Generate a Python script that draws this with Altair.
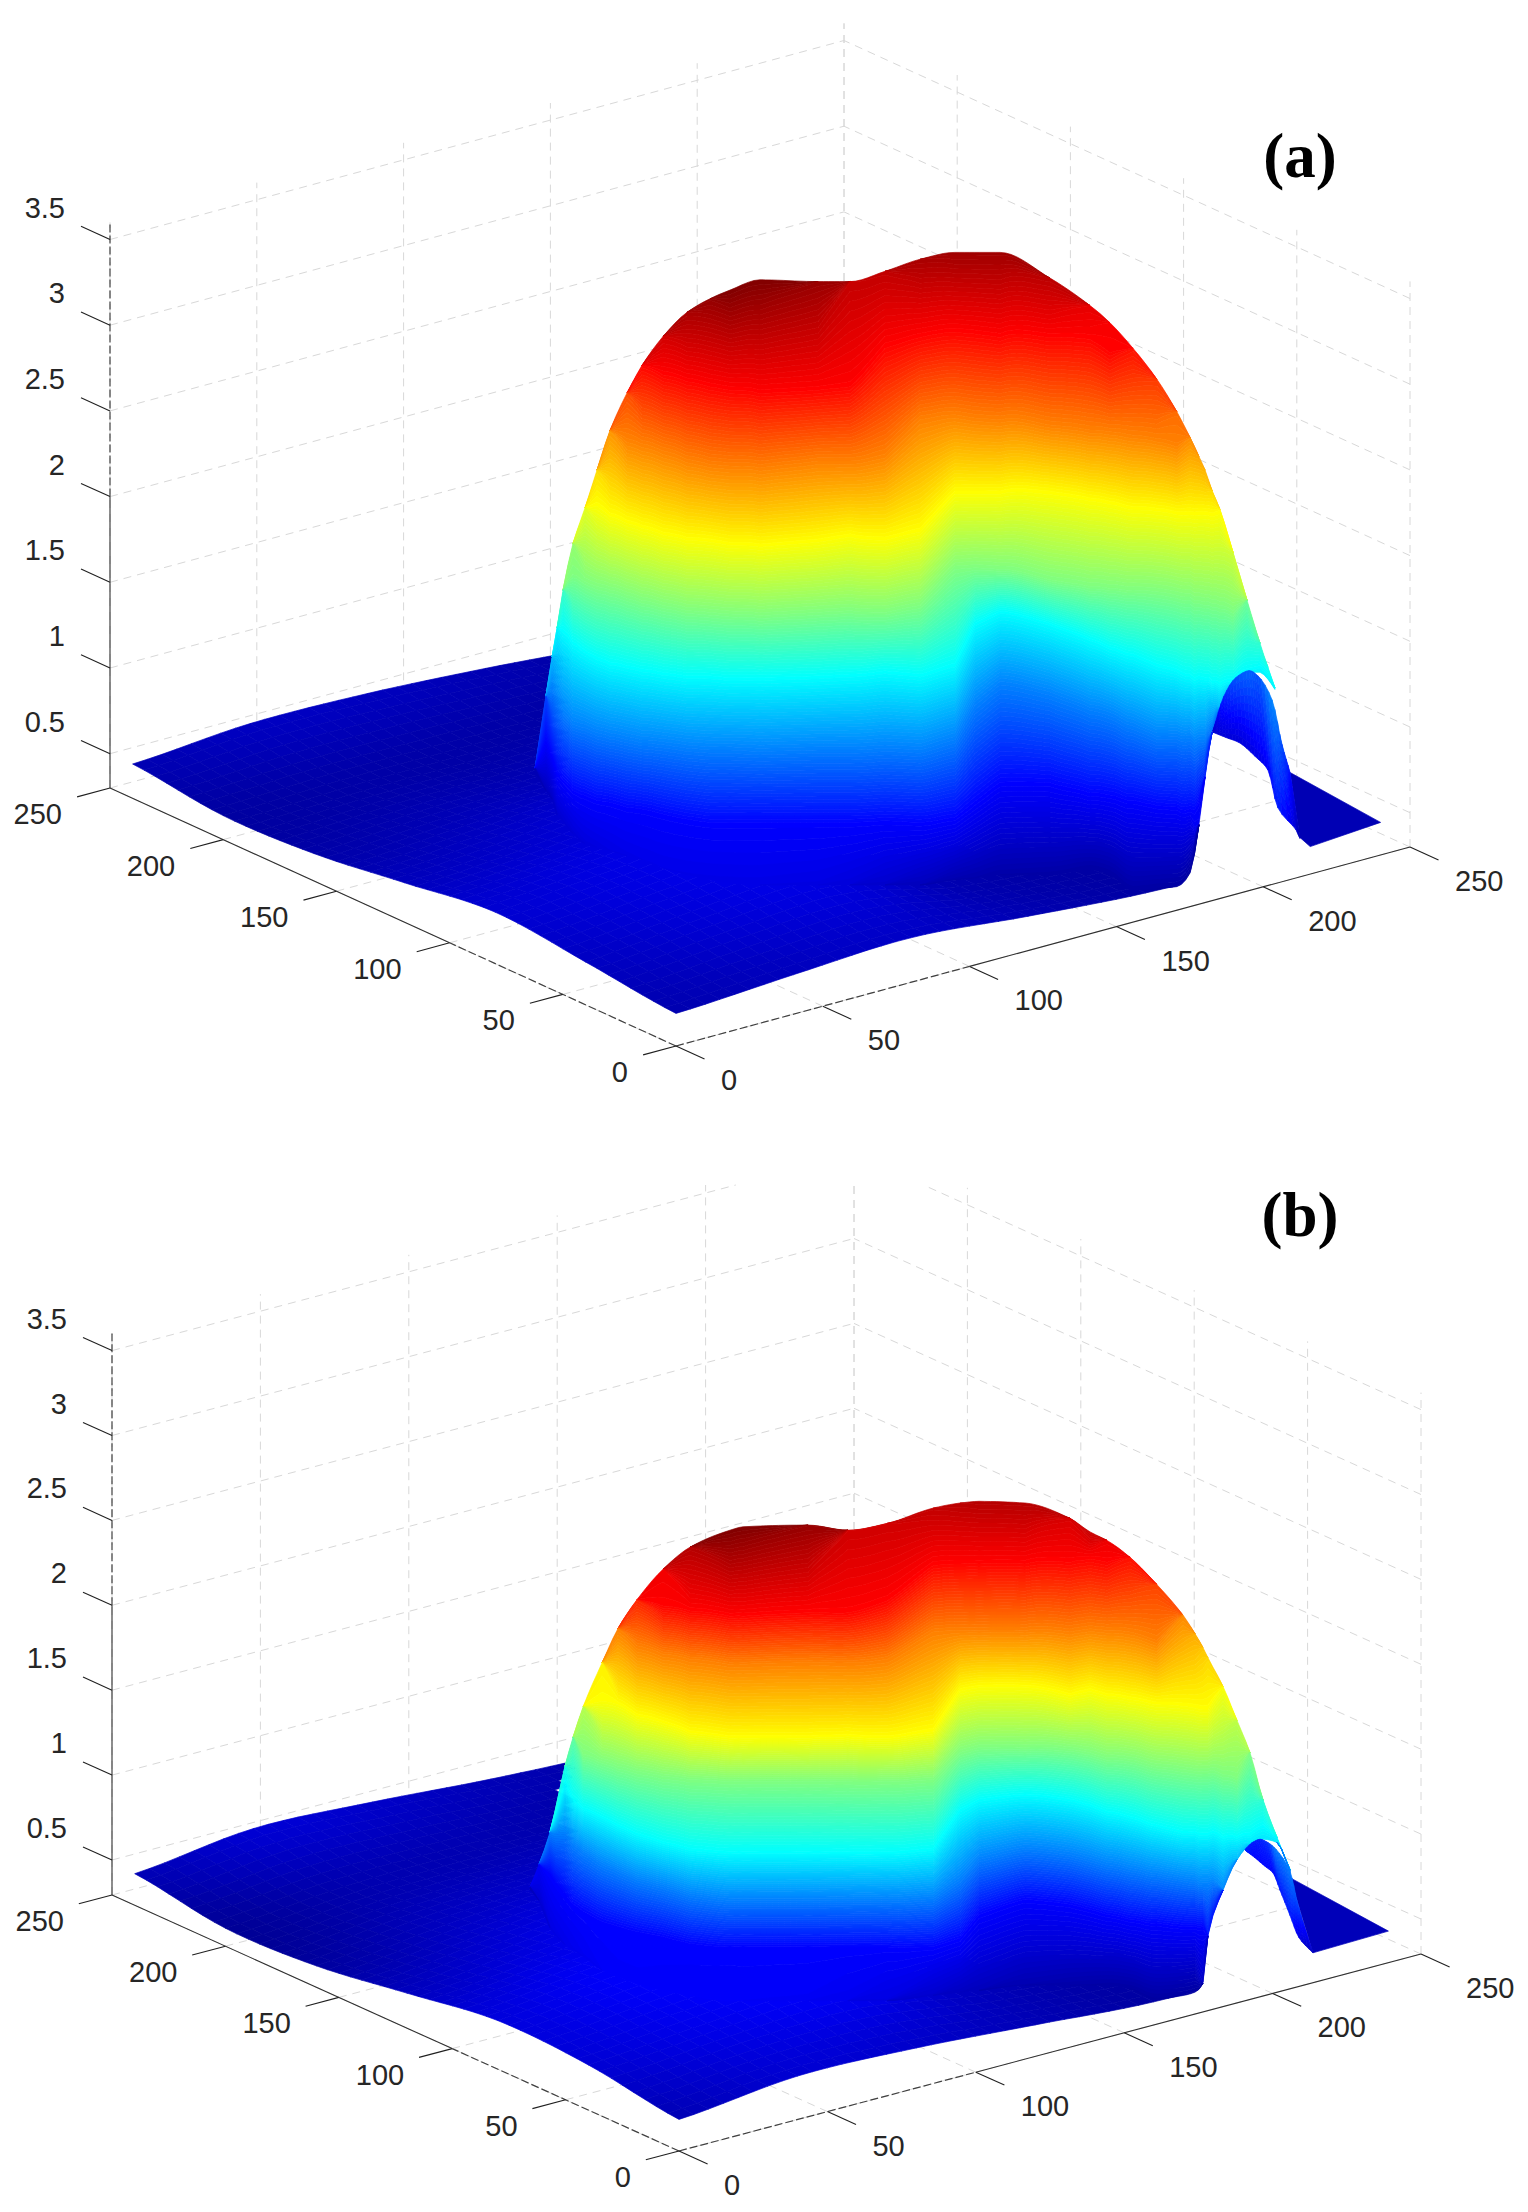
import math
import numpy as np
import altair as alt

N = None
# colormap position stops (jet) -------------------------------------------------
JET_POS = [0, 0.125, 0.375, 0.625, 0.875, 1]
JET_HEX = ["#00008f", "#0000ff", "#00ffff", "#ffff00", "#ff0000", "#800000"]

X_TICKS = [0, 50, 100, 150, 200, 250]
Y_TICKS = [0, 50, 100, 150, 200, 250]
Z_TICKS = [0.5, 1, 1.5, 2, 2.5, 3, 3.5]
Z_LABELS = ["0.5", "1", "1.5", "2", "2.5", "3", "3.5"]
Z_BOTTOM = [0.3, 0.294]
Z_TOP = 3.6
GRID_NODES = [0, 40, 80, 120, 160, 200, 240]

# low sheet height z(x, y), rows are x, columns are y
BASE_A = [
    [.49, .55, .60, .53, .46, .44, .50],
    [.53, .62, .66, .58, .50, .46, .55],
    [.56, .66, .72, .66, .52, .46, .54],
    [.50, .50, .60, .66, .56, .46, .50],
    [.45, .45, .50, .56, .50, .46, .45],
    [.44, .44, .46, .50, .50, .46, .45],
    [.45, .46, .46, .46, .46, .46, .45],
]
BASE_B = [
    [.48, .56, .58, .50, .42, .40, .48],
    [.55, .62, .66, .58, .50, .46, .56],
    [.53, .66, .70, .66, .54, .47, .53],
    [.48, .52, .60, .62, .56, .46, .48],
    [.43, .45, .50, .54, .50, .45, .45],
    [.44, .44, .46, .50, .50, .46, .45],
    [.45, .46, .46, .46, .46, .46, .45],
]

# dome wall: across, foot apparent height, foot z, apparent height at the seven
# colour levels, crest apparent height, crest z
LEVELS_A = [.75, 1.13, 1.5, 1.875, 2.25, 2.62, 3.0]
WALL_A = [
    (-48.0, 1.90, N, N, N, N, N, N, N, N, 1.92, .50),
    (-44.3, 1.79, N, 2.06, N, N, N, N, N, N, 2.34, .95),
    (-42.2, 1.74, N, 1.97, 2.38, N, N, N, N, N, 2.57, 1.30),
    (-40.5, 1.65, N, 1.88, 2.32, N, N, N, N, N, 2.74, 1.48),
    (-38.5, 1.61, N, 1.84, 2.25, 2.72, N, N, N, N, 2.96, 1.67),
    (-35.1, 1.54, N, 1.78, 2.18, 2.65, 3.05, N, N, N, 3.23, 1.93),
    (-31.0, 1.48, N, 1.75, 2.16, 2.60, 3.01, N, N, N, 3.44, 2.17),
    (-26.9, 1.46, N, 1.72, 2.13, 2.56, 2.98, 3.46, N, N, 3.66, 2.35),
    (-22.5, 1.44, N, 1.71, 2.11, 2.53, 2.96, 3.40, N, N, 3.89, 2.56),
    (-16.7, 1.41, N, 1.68, 2.09, 2.51, 2.93, 3.36, 3.84, N, 4.11, 2.77),
    (-11.6, 1.39, N, 1.67, 2.07, 2.49, 2.90, 3.33, 3.81, N, 4.27, 2.98),
    (-4.4, 1.34, N, 1.64, 2.06, 2.47, 2.87, 3.29, 3.77, 4.23, 4.44, 3.13),
    (3.7, 1.30, N, 1.61, 2.04, 2.45, 2.84, 3.26, 3.72, 4.19, 4.58, 3.25),
    (11.6, 1.27, N, 1.59, 2.03, 2.45, 2.83, 3.25, 3.69, 4.16, 4.66, 3.31),
    (18.4, 1.25, N, 1.59, 2.03, 2.44, 2.82, 3.23, 3.68, 4.14, 4.71, 3.37),
    (28.6, 1.24, N, 1.59, 2.02, 2.44, 2.81, 3.22, 3.67, 4.12, 4.77, 3.37),
    (48.4, 1.24, N, 1.59, 2.03, 2.45, 2.83, 3.25, 3.71, 4.14, 4.76, 3.30),
    (59.3, 1.24, N, 1.59, 2.03, 2.46, 2.84, 3.28, 3.71, 4.16, 4.76, 3.17),
    (71.2, 1.24, N, 1.60, 2.04, 2.48, 2.83, 3.26, 3.75, 4.39, 4.82, 3.18),
    (83.1, 1.24, N, 1.59, 2.03, 2.46, 2.87, 3.31, 3.95, 4.45, 4.89, 3.25),
    (95.0, 1.27, N, 1.62, 2.09, 2.52, 3.08, 3.53, 3.98, 4.48, 4.93, 3.28),
    (101.8, 1.28, N, 1.71, 2.29, 2.76, 3.09, 3.53, 3.96, 4.47, 4.93, 3.28),
    (110.4, 1.30, N, 1.82, 2.41, 2.83, 3.08, 3.53, 3.95, 4.45, 4.93, 3.28),
    (127.4, 1.30, N, 1.82, 2.35, 2.76, 3.02, 3.53, 3.92, 4.45, 4.78, 3.20),
    (141.0, 1.33, N, 1.76, 2.26, 2.67, 2.98, 3.49, 3.89, 4.44, 4.62, 3.07),
    (147.8, 1.30, N, 1.75, 2.23, 2.62, 2.97, 3.47, 3.88, 4.36, 4.52, 3.01),
    (155.7, 1.21, N, 1.72, 2.17, 2.58, 2.96, 3.44, 3.86, N, 4.37, 2.95),
    (163.8, 1.22, N, 1.69, 2.11, 2.52, 2.95, 3.43, 3.84, N, 4.19, 2.83),
    (170.6, 1.23, N, 1.68, 2.11, 2.49, 2.93, 3.41, 3.81, N, 4.00, 2.68),
    (175.1, 1.31, N, 1.67, 2.10, 2.46, 2.92, 3.41, N, N, 3.85, 2.59),
    (178.1, 1.59, .72, 1.71, 2.09, 2.45, 2.90, 3.41, N, N, 3.74, 2.52),
    (180.2, 1.87, .85, N, 2.09, 2.44, 2.89, 3.41, N, N, 3.66, 2.47),
    (182.6, 2.13, 1.08, N, N, 2.42, 2.88, 3.40, N, N, 3.54, 2.36),
    (185.3, 2.27, 1.30, N, N, 2.41, 2.87, N, N, N, 3.43, 2.26),
    (189.7, 2.41, 1.47, N, N, 2.43, 2.84, N, N, N, 3.18, 2.11),
    (194.5, 2.48, 1.47, N, N, 2.49, N, N, N, N, 2.90, 1.82),
    (198.9, 2.48, 1.47, N, N, N, N, N, N, N, 2.65, 1.64),
    (201.6, 2.44, 1.47, N, N, N, N, N, N, N, 2.51, 1.55),
    (204.0, 2.38, 1.47, N, N, N, N, N, N, N, 2.39, 1.49),
]
LEVELS_B = [.67, .96, 1.25, 1.54, 1.83, 2.12, 2.41]
WALL_B = [
    (-50.2, 1.83, N, N, N, N, N, N, N, N, 1.85, .50),
    (-47.2, 1.77, N, N, N, N, N, N, N, N, 1.98, .65),
    (-43.5, 1.61, N, 1.92, N, N, N, N, N, N, 2.17, .96),
    (-38.4, 1.51, N, 1.80, 2.16, 2.45, N, N, N, N, 2.56, 1.31),
    (-35.7, 1.48, N, 1.74, 2.10, 2.36, N, N, N, N, 2.73, 1.47),
    (-32.3, 1.44, N, 1.70, 2.05, 2.31, 2.63, N, N, N, 2.91, 1.66),
    (-25.9, 1.36, N, 1.64, 1.98, 2.26, 2.59, 2.95, N, N, 3.17, 1.86),
    (-20.6, 1.32, N, 1.61, 1.94, 2.21, 2.56, 2.93, N, N, 3.37, 2.12),
    (-14.2, 1.28, N, 1.58, 1.89, 2.16, 2.53, 2.86, 3.27, N, 3.54, 2.33),
    (-5.4, 1.24, N, 1.55, 1.85, 2.11, 2.50, 2.82, 3.22, 3.51, 3.72, 2.44),
    (3.7, 1.21, N, 1.51, 1.80, 2.07, 2.48, 2.76, 3.19, 3.48, 3.85, 2.58),
    (17.2, 1.18, N, 1.49, 1.77, 2.05, 2.47, 2.73, 3.16, 3.45, 3.95, 2.70),
    (21.6, 1.18, N, 1.49, 1.77, 2.05, 2.47, 2.73, 3.16, 3.45, 3.97, 2.70),
    (43.5, 1.18, N, 1.49, 1.77, 2.05, 2.47, 2.73, 3.17, 3.47, 3.98, 2.65),
    (56.9, 1.18, N, 1.49, 1.77, 2.05, 2.47, 2.74, 3.17, 3.47, 3.95, 2.52),
    (70.1, 1.18, N, 1.49, 1.77, 2.05, 2.47, 2.73, 3.19, 3.54, 3.99, 2.52),
    (85.6, 1.21, N, 1.49, 1.78, 2.07, 2.48, 2.77, 3.35, 3.75, 4.08, 2.55),
    (94.7, 1.23, N, 1.54, 1.89, 2.30, 2.64, 3.01, 3.36, 3.76, 4.11, 2.57),
    (101.1, 1.24, N, 1.68, 2.01, 2.36, 2.67, 3.03, 3.36, 3.76, 4.12, 2.58),
    (116.6, 1.27, N, 1.77, 2.07, 2.39, 2.67, 3.03, 3.36, 3.76, 4.11, 2.58),
    (131.7, 1.27, N, 1.74, 2.04, 2.36, 2.66, 2.98, 3.35, 3.77, 4.02, 2.50),
    (138.5, 1.27, N, 1.71, 2.01, 2.33, 2.64, 3.01, 3.37, 3.79, 3.94, 2.54),
    (144.2, 1.27, N, 1.68, 1.98, 2.29, 2.61, 2.98, 3.36, 3.77, 3.89, 2.45),
    (152.0, 1.25, N, 1.65, 1.95, 2.26, 2.60, 2.96, 3.35, N, 3.79, 2.38),
    (161.0, 1.19, N, 1.63, 1.92, 2.21, 2.56, 2.93, 3.30, N, 3.63, 2.26),
    (169.8, 1.21, N, 1.61, 1.89, 2.17, 2.54, 2.92, N, N, 3.45, 2.10),
    (173.9, 1.23, N, 1.61, 1.88, 2.17, 2.53, 2.91, N, N, 3.34, 2.02),
    (176.5, 1.28, .53, 1.61, 1.86, 2.16, 2.53, 2.90, N, N, 3.26, 1.96),
    (178.2, 1.56, .72, N, 1.86, 2.16, 2.53, 2.90, N, N, 3.20, 1.92),
    (183.3, 1.83, .98, N, N, 2.14, 2.51, N, N, N, 3.03, 1.82),
    (188.0, 2.01, 1.10, N, N, 2.14, 2.49, N, N, N, 2.83, 1.68),
    (192.4, 2.10, 1.20, N, N, 2.16, N, N, N, N, 2.64, 1.54),
    (196.8, 2.13, 1.20, N, N, N, N, N, N, N, 2.36, 1.35),
    (201.5, 2.11, 1.20, N, N, N, N, N, N, N, 2.14, 1.24),
    (205.9, 1.94, .95, N, N, N, N, N, N, N, 1.95, 1.00),
]

# small fin right of the arch: upper across/height/z, lower across/height/z
FIN_A = [
    (182.9, 2.14, .60, 182.9, 2.13, .60),
    (186.6, 2.34, .85, 187.3, 2.10, .62),
    (190.7, 2.45, 1.00, 191.8, 2.07, .62),
    (195.2, 2.49, 1.05, 197.2, 1.99, .66),
    (198.2, 2.46, 1.00, 201.6, 1.91, .72),
    (203.0, 2.32, 1.15, 205.0, 1.69, .82),
    (206.4, 2.06, 1.00, 211.2, 1.56, .60),
    (209.1, 1.90, .80, 212.5, 1.51, .47),
]
FIN_B = [
    (190.7, 2.07, .75, 191.1, 2.06, .75),
    (193.1, 2.11, .72, 194.1, 2.02, .68),
    (195.8, 2.13, .74, 197.5, 1.97, .68),
    (198.5, 2.11, .78, 200.2, 1.93, .68),
    (201.2, 2.07, .95, 202.5, 1.83, .72),
    (205.9, 1.94, .95, 205.9, 1.68, .72),
    (208.2, 1.77, .85, 208.9, 1.55, .60),
    (210.9, 1.60, .70, 213.6, 1.46, .50),
]
# corner sheet beyond the fin: x, y, z
TIP_A = [(212.5, 0, .53), (216, 0, .46), (240, 0, .49), (240, 40, .54)]
TIP_B = [(213.6, 0, .47), (239, 0, .48), (240, 44.5, .52)]

PANELS = [
    dict(o=(676, 1046), ax=(2.936, .796), by=(-2.264, 1.032), kz=171.4, z0=Z_BOTTOM[0], zr=(.38, 3.37),
         base=BASE_A, wall=WALL_A, lev=LEVELS_A, fin=FIN_A, tip=TIP_A, limit=1188, ymin=0),
    dict(o=(679, 2151), ax=(2.968, .788), by=(-2.268, 1.024), kz=169.8, z0=Z_BOTTOM[1], zr=(.38, 2.70),
         base=BASE_B, wall=WALL_B, lev=LEVELS_B, fin=FIN_B, tip=TIP_B, limit=1195, ymin=1185),
]

surface, grid, axis_solid, axis_dash, ticks = [], [], [], [], []
labels_x, labels_y, labels_z = [], [], []


def poly(pts, level):
    ring = [[round(float(a), 1), round(float(b), 1)] for a, b in pts]
    ring.append(ring[0])
    return {"type": "Feature", "geometry": {"type": "Polygon", "coordinates": [ring]},
            "level": round(float(np.clip(level, 0, 1)), 4)}


def line(p, q, ymin=0):
    (a, b), (c, d) = p, q
    if b < ymin and d < ymin:
        return None
    if b < ymin:
        t = (ymin - b) / (d - b)
        a, b = a + t * (c - a), ymin
    if d < ymin:
        t = (ymin - d) / (b - d)
        c, d = c + t * (a - c), ymin
    return {"type": "Feature", "geometry": {"type": "LineString", "coordinates": [
        [round(float(a), 1), round(float(b), 1)], [round(float(c), 1), round(float(d), 1)]]}}


def pchip(x, y, xi):
    """Monotone cubic curve through the read points (smooth shading of the mesh)."""
    x, y = np.asarray(x, float), np.asarray(y, float)
    h = np.diff(x)
    s = np.diff(y) / h
    d = np.zeros_like(y)
    for k in range(1, len(x) - 1):
        if s[k - 1] * s[k] > 0:
            w1, w2 = 2 * h[k] + h[k - 1], h[k] + 2 * h[k - 1]
            d[k] = (w1 + w2) / (w1 / s[k - 1] + w2 / s[k])
    d[0], d[-1] = s[0], s[-1]
    i = np.clip(np.searchsorted(x, xi, side="right") - 1, 0, len(x) - 2)
    t = (xi - x[i]) / h[i]
    return ((2 * t**3 - 3 * t**2 + 1) * y[i] + (t**3 - 2 * t**2 + t) * h[i] * d[i]
            + (-2 * t**3 + 3 * t**2) * y[i + 1] + (t**3 - t**2) * h[i] * d[i + 1])


def catmull(v, t):
    return 0.5 * (2 * v[1] + (v[2] - v[0]) * t + (2 * v[0] - 5 * v[1] + 4 * v[2] - v[3]) * t**2
                  + (3 * v[1] - v[0] - 3 * v[2] + v[3]) * t**3)


for P in PANELS:
    ox, oy = P["o"]
    ax, ay = P["ax"]
    bx, by = P["by"]
    kz, z0 = P["kz"], P["z0"]
    zlo, zhi = P["zr"]
    inv = np.linalg.inv(np.array([[ax, bx], [ay, by]]))
    base = np.array(P["base"])
    nodes = np.array(GRID_NODES, float)

    def proj(x, y, z):
        return ox + ax * x + bx * y, oy - ay * x - by * y - kz * (z - z0)

    def plan(c, r, z):
        v = inv @ np.array([ax * c, kz * (r - z)])
        return v[0], v[1]

    def base_z(x, y):
        x, y = min(max(x, 0), 239.99), min(max(y, 0), 239.99)
        i, j = int(x // 40), int(y // 40)
        s, t = (x - nodes[i]) / 40, (y - nodes[j]) / 40
        rows = []
        for a in range(i - 1, i + 3):
            a = min(max(a, 0), 6)
            rows.append(catmull([base[a, min(max(b, 0), 6)] for b in range(j - 1, j + 3)], t))
        return catmull(rows, s)

    def lev(z):
        return (z - zlo) / (zhi - zlo)

    # walls, back wall grid and floor grid
    ymin = P["ymin"]
    for v in X_TICKS:
        for f in (line(proj(v, 250, z0), proj(v, 250, Z_TOP), ymin), line(proj(v, 0, z0), proj(v, 250, z0), ymin)):
            if f:
                grid.append(f)
    for v in Y_TICKS:
        for f in (line(proj(250, v, z0), proj(250, v, Z_TOP), ymin), line(proj(0, v, z0), proj(250, v, z0), ymin)):
            if f:
                grid.append(f)
    for v in Z_TICKS:
        for f in (line(proj(0, 250, v), proj(250, 250, v), ymin), line(proj(250, 0, v), proj(250, 250, v), ymin)):
            if f:
                grid.append(f)

    # axes and ticks
    axis_solid.append(line(proj(0, 250, z0), proj(0, 250, 2)))
    axis_dash.append(line(proj(0, 250, 2), proj(0, 250, Z_TOP)))
    axis_solid.append(line(proj(100, 0, z0), proj(250, 0, z0)))
    axis_dash.append(line(proj(0, 0, z0), proj(100, 0, z0)))
    axis_solid.append(line(proj(0, 100, z0), proj(0, 250, z0)))
    axis_dash.append(line(proj(0, 0, z0), proj(0, 100, z0)))
    for v in X_TICKS:
        ticks.append(line(proj(v, 0, z0), proj(v, -12.6, z0)))
        a, b = proj(v, 0, z0)
        labels_x.append({"lon": a, "lat": b, "t": str(v)})
    for v in Y_TICKS:
        ticks.append(line(proj(0, v, z0), proj(-11.2, v, z0)))
        a, b = proj(0, v, z0)
        labels_y.append({"lon": a, "lat": b, "t": str(v)})
    for v, t in zip(Z_TICKS, Z_LABELS):
        ticks.append(line(proj(0, 250, v), proj(0, 262.8, v)))
        a, b = proj(0, 250, v)
        labels_z.append({"lon": a, "lat": b, "t": t})

    # wall profile per spoke
    spokes = []
    for row in P["wall"]:
        c, fr, fz, *mid, tr, tz = row
        if fz is None:
            fz = .5
            for _ in range(4):
                x, y = plan(c, fr, fz)
                fz = float(base_z(x, y))
        zs, rs = [fz], [fr]
        for zl, r in zip(P["lev"], mid):
            if r is not None and zl > zs[-1] and zl < tz:
                zs.append(zl)
                rs.append(r)
        zs.append(tz)
        rs.append(tr)
        spokes.append((c, np.array(zs), np.array(rs)))
    foot_sx = np.array([ox + ax * s[0] for s in spokes])
    foot_sy = np.array([oy - kz * (s[2][0] - z0) for s in spokes])

    # low sheet, drawn from the back towards the viewer
    sub = 8
    fine = np.linspace(0, 240, 6 * sub + 1)
    zgrid = [[base_z(a, b) for b in fine] for a in fine]
    cells = []
    for i in range(len(fine) - 1):
        for j in range(len(fine) - 1):
            idx = [(i, j), (i + 1, j), (i + 1, j + 1), (i, j + 1)]
            zz = [zgrid[a][b] for a, b in idx]
            pts = [proj(fine[a], fine[b], zgrid[a][b]) for a, b in idx]
            if max(p[0] for p in pts) > P["limit"]:
                continue
            cx = np.mean([p[0] for p in pts])
            if foot_sx[3] < cx < foot_sx[-10] and max(p[1] for p in pts) < np.interp(cx, foot_sx, foot_sy) - 25:
                continue
            cells.append((-(fine[i] + fine[j]), pts, np.mean(zz)))
    cells.sort(key=lambda q: q[0])
    for _, pts, zm in cells:
        surface.append(poly(pts, lev(zm)))

    # corner sheet
    tip = P["tip"]
    surface.append(poly([proj(*t) for t in tip], lev(np.mean([t[2] for t in tip]))))

    # wall: thin colour bands, crest first, foot last
    bands = np.linspace(zlo, zhi, 181)
    cs = np.array([s[0] for s in spokes])
    R = np.array([np.interp(bands, s[1], s[2]) for s in spokes])
    tops = np.array([s[2][-1] for s in spokes])
    foots = np.array([s[2][0] for s in spokes])
    col_c, col_r = [], []
    for i in range(len(cs) - 1):
        n = max(1, math.ceil((cs[i + 1] - cs[i]) * ax / 6))
        for m in range(n):
            t = m / n
            c = cs[i] + t * (cs[i + 1] - cs[i])
            L = (1 - t) * R[i] + t * R[i + 1]
            Lt = (1 - t) * tops[i] + t * tops[i + 1]
            Lf = (1 - t) * foots[i] + t * foots[i + 1]
            Pt = float(pchip(cs, tops, np.array([c]))[0])
            Pf = float(pchip(cs, foots, np.array([c]))[0])
            w = np.clip((L - Lf) / max(Lt - Lf, 1e-6), 0, 1)
            col_c.append(c)
            col_r.append(L + (Pt - Lt) * w + (Pf - Lf) * (1 - w))
    col_c.append(cs[-1])
    col_r.append(R[-1])
    col_r = np.array(col_r)
    sx_col = ox + ax * np.array(col_c)
    sy_col = oy - kz * (col_r - z0)
    for j in range(len(bands) - 2, -1, -1):
        zm = (bands[j] + bands[j + 1]) / 2
        thick = np.abs(col_r[:, j + 1] - col_r[:, j]) > 1e-6
        live = thick[:-1] | thick[1:]
        i = 0
        while i < len(live):
            if not live[i]:
                i += 1
                continue
            e = i
            while e + 1 < len(live) and live[e + 1]:
                e += 1
            up = [(sx_col[k], sy_col[k, j + 1]) for k in range(i, e + 2)]
            lo = [(sx_col[k], sy_col[k, j]) for k in range(e + 1, i - 1, -1)]
            surface.append(poly(up + lo, lev(zm)))
            i = e + 1

    # fin, smoothed across its read lines
    fin = np.array(P["fin"])
    u = np.arange(len(fin), dtype=float)
    uf = np.linspace(0, len(fin) - 1, (len(fin) - 1) * 4 + 1)
    finf = np.column_stack([pchip(u, fin[:, q], uf) for q in range(6)])
    rows = 10
    for k in range(len(finf) - 1):
        A, B = finf[k], finf[k + 1]
        for m in range(rows):
            t0, t1 = m / rows, (m + 1) / rows
            corners = []
            for L, t in ((A, t0), (B, t0), (B, t1), (A, t1)):
                c = L[0] + t * (L[3] - L[0])
                r = L[1] + t * (L[4] - L[1])
                z = L[2] + t * (L[5] - L[2])
                x, y = plan(c, r, z)
                corners.append((proj(x, y, z), z))
            surface.append(poly([q[0] for q in corners], lev(np.mean([q[1] for q in corners]))))

PROJ = dict(type="identity", scale=1, translate=[-8, -8])
jet = alt.Scale(domain=JET_POS, range=JET_HEX, interpolate="rgb")

grid_layer = alt.Chart(alt.Data(values=grid)).mark_geoshape(
    filled=False, stroke="#d8d8d8", strokeWidth=1, strokeDash=[8, 6]).project(**PROJ)
solid_layer = alt.Chart(alt.Data(values=axis_solid)).mark_geoshape(
    filled=False, stroke="#303030", strokeWidth=1.1).project(**PROJ)
dash_layer = alt.Chart(alt.Data(values=axis_dash)).mark_geoshape(
    filled=False, stroke="#404040", strokeWidth=1.2, strokeDash=[8, 3]).project(**PROJ)
tick_layer = alt.Chart(alt.Data(values=ticks)).mark_geoshape(
    filled=False, stroke="#202020", strokeWidth=1.1).project(**PROJ)
surf_layer = alt.Chart(alt.Data(values=surface)).mark_geoshape(strokeWidth=0.7).encode(
    fill=alt.Fill("level:Q", scale=jet, legend=None),
    stroke=alt.Stroke("level:Q", scale=jet, legend=None),
).project(**PROJ)


def text_layer(rows, align, dx, dy):
    return alt.Chart(alt.Data(values=rows)).mark_text(
        font="Liberation Sans", fontSize=29, color="#262626", align=align, baseline="middle", dx=dx, dy=dy
    ).encode(longitude="lon:Q", latitude="lat:Q", text="t:N").project(**PROJ)


def panel_name(txt, px, py):
    return alt.Chart(alt.Data(values=[{"t": txt}])).mark_text(
        font="Liberation Serif", fontWeight="bold", fontSize=63, color="black", align="center", baseline="alphabetic"
    ).encode(text="t:N", x=alt.value(px), y=alt.value(py))


chart = alt.layer(
    grid_layer, solid_layer, dash_layer, tick_layer, surf_layer,
    text_layer(labels_x, "left", 45, 35),
    text_layer(labels_y, "right", -48, 27),
    text_layer(labels_z, "right", -45, -31),
    panel_name("(a)", 1292, 169),
    panel_name("(b)", 1292, 1228),
).properties(width=1512, height=2196, padding=0).configure_view(stroke=None)

chart.save("out.html", embed_options={"renderer": "svg", "actions": False})
